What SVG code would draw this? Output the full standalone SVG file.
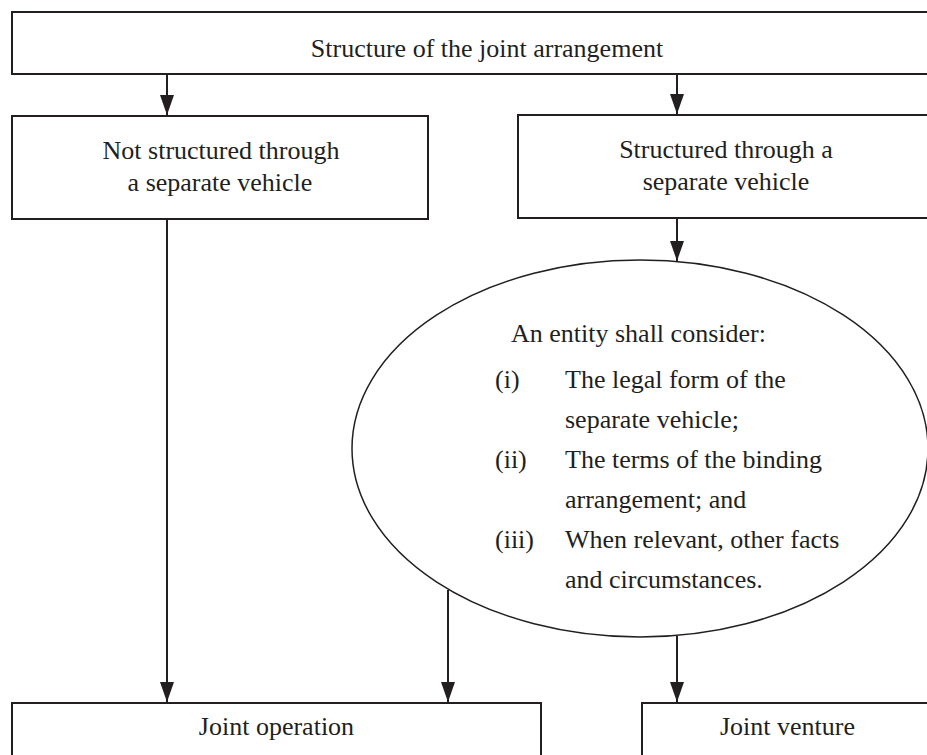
<svg xmlns="http://www.w3.org/2000/svg" width="927" height="755" viewBox="0 0 927 755">
<style>
.box{fill:#fff;stroke:#231f20;stroke-width:2}
.ell{fill:none;stroke:#231f20;stroke-width:1.5}
.t{font-family:"Liberation Serif","Times New Roman",serif;font-size:26px;fill:#231f20}
.c{text-anchor:middle}
.ln{stroke:#231f20;stroke-width:2;fill:none}
</style>
<defs>
<marker id="ah" markerUnits="userSpaceOnUse" markerWidth="20" markerHeight="14" refX="20" refY="7" orient="auto" viewBox="0 0 20 14">
<path d="M0,0 L20,7 L0,14 Z" fill="#231f20"/>
</marker>
</defs>
<rect width="927" height="755" fill="#fff"/>
<g id="connectors">
<line class="ln" x1="167" y1="74" x2="167" y2="115" marker-end="url(#ah)"/>
<line class="ln" x1="677" y1="74" x2="677" y2="114" marker-end="url(#ah)"/>
<line class="ln" x1="677" y1="218" x2="677" y2="261" marker-end="url(#ah)"/>
<line class="ln" x1="167" y1="219" x2="167" y2="702" marker-end="url(#ah)"/>
<line class="ln" x1="448" y1="590" x2="448" y2="702" marker-end="url(#ah)"/>
<line class="ln" x1="677" y1="636" x2="677" y2="702" marker-end="url(#ah)"/>
</g>
<g id="top">
<rect class="box" x="12" y="12" width="960" height="62"/>
<text class="t c" x="487" y="57">Structure of the joint arrangement</text>
</g>
<g id="not-structured">
<rect class="box" x="12" y="116" width="416" height="103"/>
<text class="t c" x="221" y="159">Not structured through</text>
<text class="t c" x="220" y="191">a separate vehicle</text>
</g>
<g id="structured">
<rect class="box" x="518" y="115" width="420" height="103"/>
<text class="t c" x="726" y="158">Structured through a</text>
<text class="t c" x="726" y="190">separate vehicle</text>
</g>
<g id="consider">
<ellipse class="ell" cx="640" cy="448.5" rx="288" ry="188.5"/>
<text class="t" x="511" y="342">An entity shall consider:</text>
<text class="t" x="495" y="388">(i)</text>
<text class="t" x="565" y="388">The legal form of the</text>
<text class="t" x="565" y="428">separate vehicle;</text>
<text class="t" x="495" y="468">(ii)</text>
<text class="t" x="565" y="468">The terms of the binding</text>
<text class="t" x="565" y="508">arrangement; and</text>
<text class="t" x="495" y="548">(iii)</text>
<text class="t" x="565" y="548">When relevant, other facts</text>
<text class="t" x="565" y="588">and circumstances.</text>
</g>
<g id="joint-operation">
<rect class="box" x="12" y="703" width="529" height="70"/>
<text class="t c" x="276.5" y="735">Joint operation</text>
</g>
<g id="joint-venture">
<rect class="box" x="642" y="703" width="300" height="70"/>
<text class="t c" x="787.5" y="735">Joint venture</text>
</g>
</svg>
